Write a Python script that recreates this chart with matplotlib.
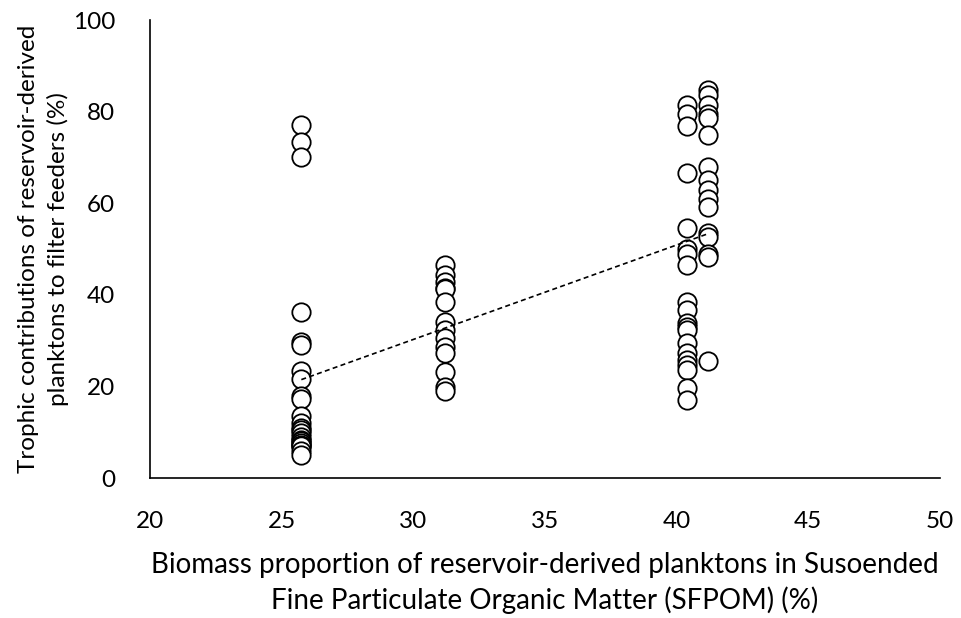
import numpy as np
import matplotlib.pyplot as plt

plt.rcParams['font.family'] = ['Lato', 'DejaVu Sans']

# Columnes de punts (x = proporció de biomassa a SFPOM, y = contribució tròfica)
x_a = 25.75
y_a = [77.1, 73.4, 70.2, 36.3, 29.6, 29.0, 23.4, 21.6, 18.0, 17.2, 13.6,
       12.0, 11.0, 10.5, 9.8, 9.0, 8.4, 8.0, 7.6, 7.2, 7.0, 7.0, 6.0, 5.0]

x_b = 31.2
y_b = [46.5, 44.3, 42.9, 41.6, 41.2, 38.5, 34.1, 32.3, 30.5, 28.7, 27.2,
       23.2, 19.9, 18.9]

x_c = 40.4
y_c = [81.4, 79.6, 76.9, 66.5, 54.5, 50.1, 49.0, 46.5, 38.5, 36.7, 33.8,
       33.0, 32.3, 29.4, 27.2, 25.8, 24.7, 23.6, 19.6, 17.0]

x_d = 41.2
y_d = [84.7, 83.6, 81.4, 79.6, 78.6, 74.9, 68.0, 65.0, 62.9, 61.0, 59.2,
       53.4, 52.7, 49.0, 48.3, 25.6]

xs = np.concatenate([np.full(len(y_a), x_a), np.full(len(y_b), x_b),
                     np.full(len(y_c), x_c), np.full(len(y_d), x_d)])
ys = np.concatenate([y_a, y_b, y_c, y_d])

fig = plt.figure(figsize=(9.61, 6.18), dpi=100)
ax = fig.add_axes([0.156, 0.2265, 0.822, 0.741])

ax.scatter(xs, ys, s=175, facecolors='white', edgecolors='black',
           linewidths=1.3, zorder=3)

# Línia de tendència lineal (com a Excel)
m, b = np.polyfit(xs, ys, 1)
xt = np.array([xs.min(), xs.max()])
ax.plot(xt, m * xt + b, color='black', linestyle=(0, (3, 2)), linewidth=1.2,
        zorder=4)

ax.set_xlim(20, 50)
ax.set_ylim(0, 100)
ax.set_xticks(np.arange(20, 51, 5))
ax.set_yticks(np.arange(0, 101, 20))
ax.tick_params(length=0, labelsize=17.5)
ax.tick_params(axis='x', pad=24)
ax.tick_params(axis='y', pad=25)
for s in ['top', 'right']:
    ax.spines[s].set_visible(False)
ax.spines['left'].set_linewidth(1.2)
ax.spines['bottom'].set_linewidth(1.2)

ax.set_xlabel('Biomass proportion of reservoir-derived planktons in Susoended\n'
              'Fine Particulate Organic Matter (SFPOM) (%)',
              fontsize=20, linespacing=1.4, labelpad=14)
ax.set_ylabel('Trophic contributions of reservoir-derived\n'
              'planktons to filter feeders (%)',
              fontsize=17.5, linespacing=1.4, labelpad=3)

fig.savefig('out.png', dpi=100)
